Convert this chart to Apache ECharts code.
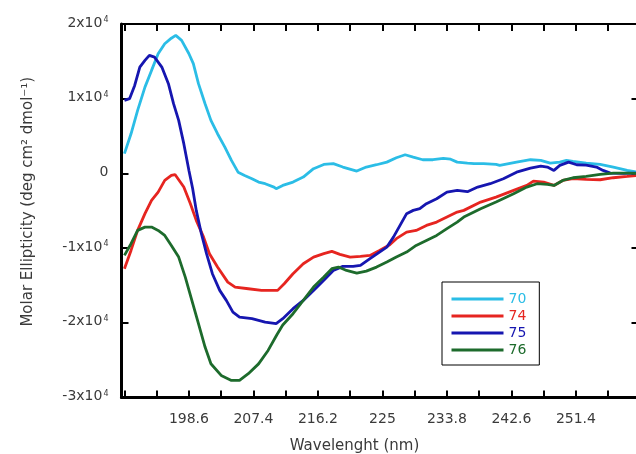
<!DOCTYPE html>
<html>
<head>
<meta charset="utf-8">
<script src="https://cdn.jsdelivr.net/npm/echarts@6/dist/echarts.min.js"></script>
<style>
html,body{margin:0;padding:0;background:#fff;}
#chart{width:636px;height:454px;}
</style>
</head>
<body>
<div id="chart"></div>
<script>
// ---- data (wavelength in nm, molar ellipticity) ----
const seriesNames = ['70', '74', '75', '76'];

const wl70 = [189.8,190.7,191.6,192.6,193.5,194.4,195.3,196.2,196.8,197.6,198.6,199.2,199.9,200.8,201.6,202.5,203.5,204.4,205.3,206.2,207.2,208.1,209.0,210.2,210.5,211.4,212.8,214.2,215.6,217.0,218.3,219.6,221.5,222.8,224.2,225.6,226.9,228.1,229.2,230.5,231.9,233.3,234.3,235.2,236.6,237.5,238.8,240.5,241.0,243.3,245.2,246.6,247.9,249.2,250.1,251.0,252.8,254.7,256.5,258.4,259.7];
const val70 = [2640,5300,8430,11550,13790,16020,17360,18100,18470,17800,16020,14690,12010,9330,7100,5310,3520,1740,170,-270,-710,-1160,-1380,-1830,-2050,-1610,-1160,-490,630,1200,1300,850,310,850,1160,1510,2100,2500,2180,1830,1830,2000,1900,1510,1380,1300,1300,1200,1070,1510,1830,1740,1380,1510,1740,1600,1380,1200,850,400,170];

const wl74 = [189.8,190.7,191.6,192.6,193.5,194.4,195.3,196.2,196.7,196.9,197.9,198.8,199.6,200.6,201.4,202.5,203.9,204.9,206.7,208.5,210.7,211.6,212.8,214.2,215.6,217.0,218.1,219.2,220.6,222.0,223.3,224.6,226.0,226.9,228.3,229.6,231.0,232.4,233.8,235.2,236.1,238.4,240.5,242.9,244.7,245.6,247.0,248.4,249.6,251.0,252.8,254.7,256.5,258.4,259.7];
const val74 = [-12760,-10310,-7630,-5390,-3610,-2500,-940,-270,-150,-270,-1830,-4060,-6290,-8530,-10750,-12540,-14550,-15220,-15440,-15660,-15660,-14770,-13430,-12090,-11200,-10750,-10440,-10840,-11200,-11110,-10980,-10310,-9540,-8740,-7860,-7630,-6960,-6520,-5850,-5180,-4950,-3840,-3170,-2280,-1610,-1030,-1160,-1610,-940,-710,-800,-850,-580,-400,-270];

const wl75 = [189.8,190.5,191.2,191.9,192.6,193.2,193.9,194.9,195.8,196.5,197.2,197.9,198.6,199.1,199.6,200.3,201.0,201.8,202.8,203.7,204.6,205.5,207.2,209.0,210.5,211.4,212.8,214.2,215.6,217.0,218.3,219.6,221.0,222.0,223.3,224.6,225.6,226.5,227.4,228.3,229.2,230.1,231.0,232.4,233.8,235.2,236.6,238.0,239.7,241.5,243.3,245.2,246.6,247.5,248.4,249.2,250.4,251.5,252.8,254.2,255.1,256.1,257.9,259.7];
const val75 = [9770,10000,11780,14230,15130,15800,15570,14230,12010,9330,7100,3980,400,-2000,-4950,-8070,-10750,-13430,-15660,-17000,-18570,-19240,-19450,-19900,-20120,-19450,-18110,-17000,-15660,-14320,-12990,-12450,-12450,-12320,-11420,-10530,-9870,-8530,-6960,-5390,-4950,-4730,-4060,-3390,-2500,-2280,-2450,-1830,-1380,-710,170,710,980,850,400,1070,1510,1160,1100,850,400,40,0,40];

const wl76 = [189.8,190.7,191.6,192.6,193.5,194.4,195.3,196.2,197.2,198.1,199.0,199.9,200.8,201.6,203.0,204.4,205.5,206.7,208.1,209.4,210.6,211.4,212.8,214.2,215.6,217.0,218.1,219.0,220.1,221.5,222.8,224.2,225.6,226.9,228.3,229.6,231.0,232.4,233.8,235.2,236.1,238.4,240.5,242.9,244.7,246.1,247.5,248.4,249.6,251.0,252.8,254.7,256.5,258.4,259.7];
const val76 = [-10980,-9410,-7630,-7190,-7190,-7630,-8300,-9640,-11200,-13880,-17000,-20120,-23250,-25480,-27040,-27710,-27710,-26810,-25500,-23700,-21600,-20300,-18780,-17000,-15220,-13880,-12760,-12540,-12990,-13350,-13080,-12540,-11870,-11200,-10530,-9640,-8970,-8300,-7400,-6520,-5850,-4730,-3840,-2720,-1830,-1380,-1470,-1610,-940,-580,-400,-130,40,40,0];

// axis ticks / labels
const xTickValues = [189.8,194.2,198.6,203,207.4,211.8,216.2,220.6,225,229.4,233.8,238.2,242.6,247,251.4,255.8];
const xLabelValues = [198.6,207.4,216.2,225,233.8,242.6,251.4];

const colors = ['#2bbde6', '#e62520', '#1616b0', '#1d6b2c'];

function zip(a, b) { return a.map((x, i) => [x, b[i]]); }
const allData = [zip(wl70, val70), zip(wl74, val74), zip(wl75, val75), zip(wl76, val76)];

const FONT = 'DejaVu Sans';
const chart = echarts.init(document.getElementById('chart'), null, {renderer: 'canvas'});

const X_MIN = 189.4, X_MAX = 259.8;

// tick-only axes: shifted 7px into the plot, ticks pointing outward onto the frame
function xTickAxis(pos) {
  return {
    type: 'value', min: X_MIN, max: X_MAX, position: pos, offset: -7,
    splitLine: {show: false},
    axisLine: {show: false, onZero: false},
    axisTick: {show: true, inside: false, length: 7, customValues: xTickValues.slice(), lineStyle: {color: '#000', width: 2}},
    axisLabel: {show: true, color: 'rgba(0,0,0,0)', fontSize: 1}
  };
}
function yTickAxis(pos) {
  return {
    type: 'value', min: -30000, max: 20000, interval: 10000, position: pos, offset: -7,
    splitLine: {show: false},
    axisLine: {show: false, onZero: false},
    axisTick: {show: true, inside: false, length: 7, lineStyle: {color: '#000', width: 2}},
    axisLabel: {show: false}
  };
}

chart.setOption({
  animation: false,
  backgroundColor: '#fff',
  grid: {left: 121.5, top: 24, right: -1.5, bottom: 56.5, outerBoundsMode: 'none'},
  xAxis: [
    {
      type: 'value', min: X_MIN, max: X_MAX,
      position: 'bottom',
      splitLine: {show: false},
      name: 'Wavelenght (nm)',
      nameLocation: 'middle',
      nameGap: 41,
      nameTextStyle: {fontFamily: FONT, fontSize: 15, color: '#3a3a3a', padding: [0, 50, 0, 0]},
      axisLine: {show: true, onZero: false, lineStyle: {color: '#000', width: 3}},
      axisTick: {show: true, inside: true, length: 7, customValues: xTickValues.slice(), lineStyle: {color: '#000', width: 2}},
      axisLabel: {show: true, customValues: xLabelValues, margin: 15, fontFamily: FONT, fontSize: 14, color: '#3a3a3a',
        formatter: v => String(Math.round(v * 10) / 10)}
    },
    {
      type: 'value', min: X_MIN, max: X_MAX,
      position: 'top',
      splitLine: {show: false},
      axisLine: {show: true, onZero: false, lineStyle: {color: '#000', width: 2}},
      axisTick: {show: false},
      axisLabel: {show: false}
    },
    xTickAxis('bottom'),
    xTickAxis('top')
  ],
  yAxis: [
    {
      type: 'value', min: -30000, max: 20000, interval: 10000,
      position: 'left',
      name: 'Molar Ellipticity (deg cm\u00B2 dmol\u207B\u00B9)',
      nameLocation: 'middle',
      nameGap: 86,
      nameRotate: 90,
      nameTextStyle: {fontFamily: FONT, fontSize: 15, color: '#3a3a3a', padding: [0, 0, 0, 18]},
      splitLine: {show: false},
      axisLine: {show: true, onZero: false, lineStyle: {color: '#000', width: 3}},
      axisTick: {show: false},
      axisLabel: {
        margin: 13,
        fontFamily: FONT, fontSize: 14, color: '#3a3a3a',
        formatter: function (v) {
          if (v === 0) return '{n|0}';
          return '{n|' + (v / 10000) + 'x10}{s|4}';
        },
        rich: {
          n: {fontFamily: FONT, fontSize: 14, color: '#3a3a3a', verticalAlign: 'top', lineHeight: 16},
          s: {fontFamily: FONT, fontSize: 8, color: '#3a3a3a', verticalAlign: 'top', lineHeight: 16, padding: [0, 0, 0, 1]}
        }
      }
    },
    {
      type: 'value', min: -30000, max: 20000, interval: 10000,
      position: 'right',
      splitLine: {show: false},
      axisLine: {show: false, onZero: false},
      axisTick: {show: true, inside: true, length: 6, lineStyle: {color: '#000', width: 2}},
      axisLabel: {show: false}
    },
    yTickAxis('left')
  ],
  legend: {
    orient: 'vertical',
    left: 442, top: 282,
    padding: [10, 13, 8, 8],
    itemWidth: 52, itemHeight: 14, itemGap: 3,
    borderColor: '#000', borderWidth: 1,
    backgroundColor: '#fff',
    itemStyle: {opacity: 0, borderWidth: 0},
    lineStyle: {width: 3},
    textStyle: {fontFamily: FONT, fontSize: 14},
    data: seriesNames.map((n, i) => ({name: n, textStyle: {color: colors[i]}}))
  },
  series: seriesNames.map((n, i) => ({
    name: n,
    type: 'line',
    xAxisIndex: 0, yAxisIndex: 0,
    data: allData[i],
    showSymbol: false,
    symbol: 'none',
    color: colors[i],
    lineStyle: {color: colors[i], width: 2.8},
    emphasis: {disabled: true}
  }))
});
</script>
</body>
</html>
